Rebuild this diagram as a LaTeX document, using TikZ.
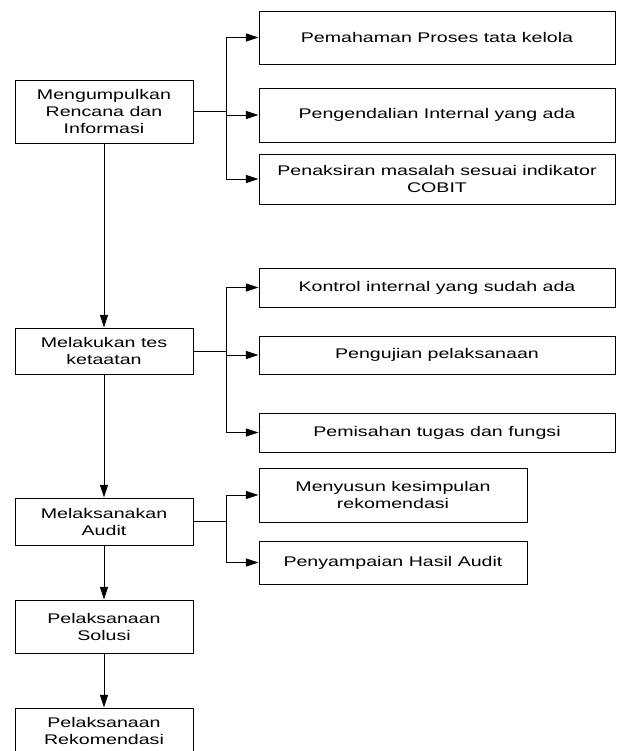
\documentclass[tikz,border=0pt]{standalone}
\usepackage{fontspec}
\setmainfont[FakeStretch=1.4]{Liberation Sans}
\usetikzlibrary{arrows.meta}

\begin{document}
\begin{tikzpicture}[x=0.75pt, y=-0.75pt,
  every node/.style={draw, rectangle, align=center, inner sep=2pt, line width=0.75pt,
    font=\fontsize{10.5}{12.75}\selectfont},
  lbox/.style={minimum width=133.5pt},
  rbox/.style={minimum width=267pt},
  sbox/.style={minimum width=201pt},
  arr/.style={-{Triangle[length=9.5pt, width=6pt]}, line width=0.75pt}]
  \useasboundingbox (0,0) rectangle (617,751);
  % left column
  \node[lbox, minimum height=47.25pt] (a) at (104,111.5) {Mengumpulkan\\Rencana dan\\Informasi};
  \node[lbox, minimum height=34.5pt] (b) at (104,351) {Melakukan tes\\ketaatan};
  \node[lbox, minimum height=35.25pt] (c) at (104,521.5) {Melaksanakan\\Audit};
  \node[lbox, minimum height=39.75pt] (d) at (104,626.5) {Pelaksanaan\\Solusi};
  \node[lbox, minimum height=34.5pt] (e) at (104,731) {Pelaksanaan\\Rekomendasi};
  % right column
  \node[rbox, minimum height=39.75pt] (a1) at (437,37.5) {Pemahaman Proses tata kelola};
  \node[rbox, minimum height=40.5pt] (a2) at (437,115) {Pengendalian Internal yang ada};
  \node[rbox, minimum height=37.5pt] (a3) at (437,179) {Penaksiran masalah sesuai indikator\\COBIT};
  \node[rbox, minimum height=29.25pt] (b1) at (437,287.5) {Kontrol internal yang sudah ada};
  \node[rbox, minimum height=28.5pt] (b2) at (437,355) {Pengujian pelaksanaan};
  \node[rbox, minimum height=29.25pt] (b3) at (437,432.5) {Pemisahan tugas dan fungsi};
  \node[sbox, minimum height=40.5pt] (c1) at (393,495) {Menyusun kesimpulan\\rekomendasi};
  \node[sbox, minimum height=32.25pt] (c2) at (393,562.5) {Penyampaian Hasil Audit};
  % main flow
  \draw[arr] (a) -- (b);
  \draw[arr] (b) -- (c);
  \draw[arr] (c) -- (d);
  \draw[arr] (d) -- (e);
  % branches
  \foreach \m/\s in {a/a1, a/a2, a/a3, b/b1, b/b2, b/b3, c/c1, c/c2}
    \draw[arr] (\m.east) -- ++(33,0) |- (\s.west);
\end{tikzpicture}
\end{document}
